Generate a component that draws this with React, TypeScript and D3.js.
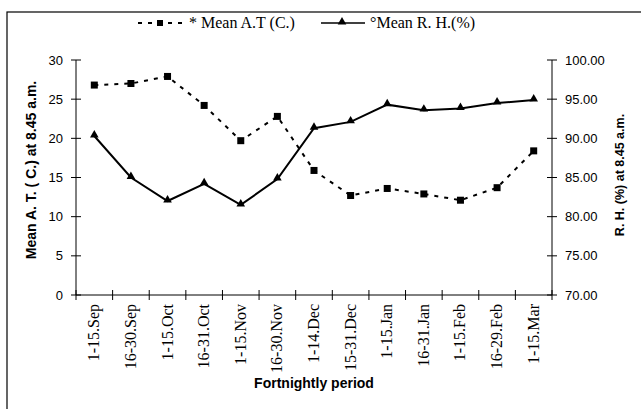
import React from "react";
import * as d3 from "d3";

const categories = ["1-15.Sep", "16-30.Sep", "1-15.Oct", "16-31.Oct", "1-15.Nov", "16-30.Nov", "1-14.Dec", "15-31.Dec", "1-15.Jan", "16-31.Jan", "1-15.Feb", "16-29.Feb", "1-15.Mar"];
const meanAT = [26.8, 27.0, 27.9, 24.2, 19.7, 22.8, 15.9, 12.7, 13.6, 12.9, 12.1, 13.7, 18.4];
const meanRH = [90.3, 85.0, 82.0, 84.2, 81.5, 84.8, 91.3, 92.1, 94.3, 93.6, 93.8, 94.5, 94.9];
const leftTicks = [0, 5, 10, 15, 20, 25, 30];
const rightTicks = [70, 75, 80, 85, 90, 95, 100];

export default function App() {
  const W = 641, H = 409;
  const x0 = 76, x1 = 552, yTop = 60, yBot = 295;
  const xb = d3.scaleBand<string>().domain(categories).range([x0, x1]);
  const yl = d3.scaleLinear().domain([0, 30]).range([yBot, yTop]);
  const yr = d3.scaleLinear().domain([70, 100]).range([yBot, yTop]);
  const cx = (c: string) => (xb(c) as number) + xb.bandwidth() / 2;
  const lineAT = d3.line<number>().x((_, i) => cx(categories[i])).y((d) => yl(d))(meanAT) as string;
  const lineRH = d3.line<number>().x((_, i) => cx(categories[i])).y((d) => yr(d))(meanRH) as string;
  const tri = d3.symbol().type(d3.symbolTriangle).size(32)() as string;
  const sans = "'Liberation Sans', Arial, sans-serif";
  const serif = "'Liberation Serif', 'Times New Roman', serif";
  const xTickPos = [...categories.map((c) => xb(c) as number), x1];

  return (
    <svg width={W} height={H} style={{ position: "absolute", left: 0, top: 0 }}>
      <rect x={0} y={0} width={W} height={H} fill="#fff" />
      <rect x={7} y={12} width={W + 20} height={H + 20} fill="none" stroke="#000" strokeWidth={1.2} />
      {/* legend */}
      <g>
        <line x1={138} y1={23} x2={185} y2={23} stroke="#000" strokeWidth={2} strokeDasharray="4,6" />
        <rect x={157} y={20} width={6} height={6} fill="#000" />
        <text x={189} y={28} fontFamily={serif} fontSize={16}>* Mean A.T (C.)</text>
        <line x1={321} y1={23} x2={365} y2={23} stroke="#000" strokeWidth={1.5} />
        <path d={tri} transform="translate(342,22)" fill="#000" />
        <text x={370} y={28} fontFamily={serif} fontSize={16}>°Mean R. H.(%)</text>
      </g>
      {/* axes */}
      <line x1={x0} y1={yTop} x2={x0} y2={yBot} stroke="#000" strokeWidth={1} />
      <line x1={x1} y1={yTop} x2={x1} y2={yBot} stroke="#000" strokeWidth={1} />
      <line x1={x0} y1={yBot} x2={x1} y2={yBot} stroke="#000" strokeWidth={1} />
      {leftTicks.map((t) => (
        <g key={"l" + t}>
          <line x1={x0 - 5} x2={x0 + 5} y1={yl(t)} y2={yl(t)} stroke="#000" />
          <text x={x0 - 13} y={yl(t) + 4.5} textAnchor="end" fontFamily={sans} fontSize={13}>{t}</text>
        </g>
      ))}
      {rightTicks.map((t) => (
        <g key={"r" + t}>
          <line x1={x1 - 5} x2={x1 + 5} y1={yr(t)} y2={yr(t)} stroke="#000" />
          <text x={x1 + 13} y={yr(t) + 4.5} textAnchor="start" fontFamily={sans} fontSize={13}>{t.toFixed(2)}</text>
        </g>
      ))}
      {xTickPos.map((p, i) => (
        <line key={"xt" + i} x1={p} x2={p} y1={yBot - 5} y2={yBot + 5} stroke="#000" />
      ))}
      {categories.map((c) => (
        <text key={"xl" + c} transform={`translate(${cx(c) + 5},${yBot + 9}) rotate(-90)`} textAnchor="end" fontFamily={serif} fontSize={16}>{c}</text>
      ))}
      <text x={(x0 + x1) / 2} y={388} textAnchor="middle" fontFamily={sans} fontSize={14} fontWeight="bold">Fortnightly period</text>
      <text transform={`translate(36,170) rotate(-90)`} textAnchor="middle" fontFamily={sans} fontSize={14} fontWeight="bold">Mean A. T. ( C.) at 8.45 a.m.</text>
      <text transform={`translate(624,175) rotate(-90)`} textAnchor="middle" fontFamily={sans} fontSize={12.5} fontWeight="bold">R. H. (%) at 8.45 a.m.</text>
      {/* series */}
      <path d={lineAT} fill="none" stroke="#000" strokeWidth={2} strokeDasharray="4,6" />
      {meanAT.map((v, i) => (
        <rect key={"s" + i} x={cx(categories[i]) - 3.5} y={yl(v) - 3.5} width={7} height={7} fill="#000" />
      ))}
      <path d={lineRH} fill="none" stroke="#000" strokeWidth={2} />
      {meanRH.map((v, i) => (
        <path key={"t" + i} d={tri} transform={`translate(${cx(categories[i])},${yr(v) - 1})`} fill="#000" />
      ))}
    </svg>
  );
}
